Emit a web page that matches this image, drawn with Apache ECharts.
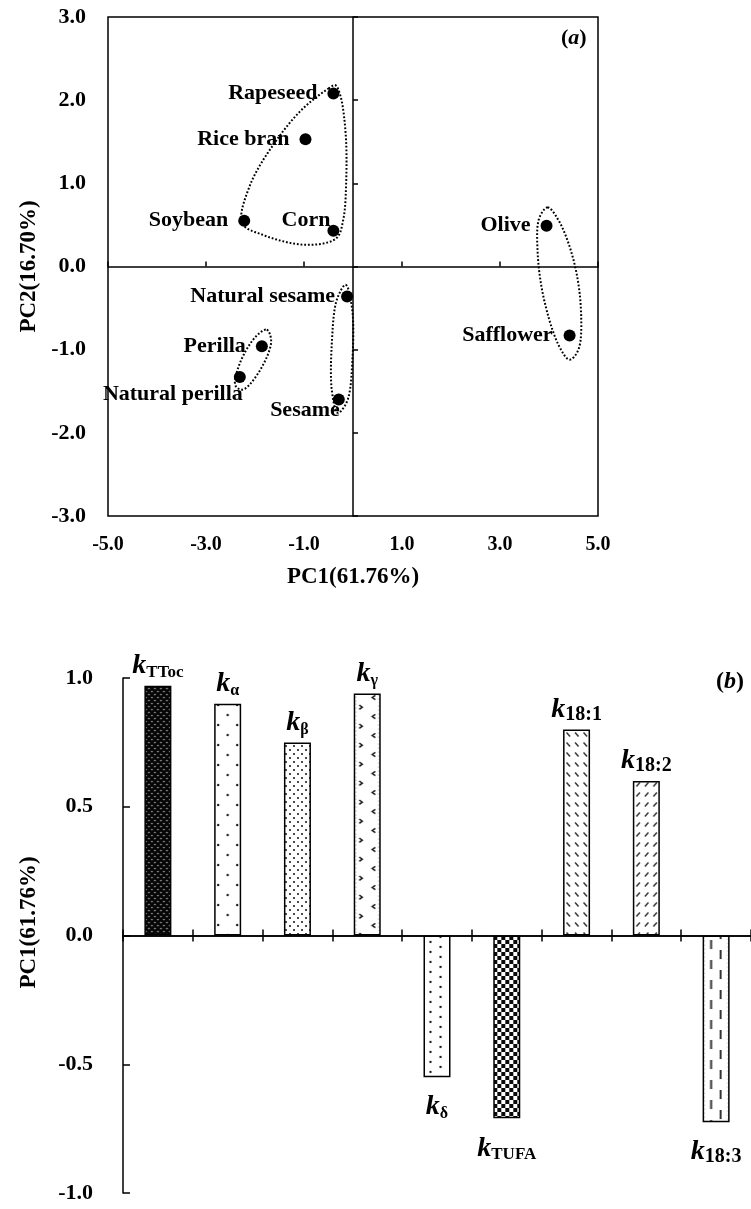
<!DOCTYPE html>
<html>
<head>
<meta charset="utf-8">
<script src="https://cdn.jsdelivr.net/npm/echarts@6/dist/echarts.min.js"></script>
<style>
  html, body { margin: 0; padding: 0; background: #fff; }
  #chart { width: 751px; height: 1209px; }
</style>
</head>
<body>
<div id="chart"></div>
<script>
// ---- (a) PCA score plot of edible oils ----
const oilNames = ['Rapeseed', 'Rice bran', 'Soybean', 'Corn', 'Olive',
                  'Natural sesame', 'Perilla', 'Natural perilla', 'Sesame', 'Safflower'];
const pc1Scores = [-0.40, -0.97, -2.22, -0.40, 3.95, -0.12, -1.86, -2.31, -0.29, 4.42];
const pc2Scores = [2.08, 1.53, 0.55, 0.43, 0.49, -0.36, -0.96, -1.33, -1.60, -0.83];

// dotted cluster boundaries, in score units (PC1, PC2)
const clusterRapeseedGroup = [[-0.50, 2.14], [-0.36, 2.18], [-0.26, 2.06], [-0.15, 1.60], [-0.14, 1.00],
  [-0.20, 0.56], [-0.34, 0.34], [-0.95, 0.26], [-1.84, 0.38], [-2.26, 0.52],
  [-2.10, 0.98], [-1.56, 1.52], [-1.02, 1.90]];
const clusterOliveGroup = [[3.97, 0.71], [4.20, 0.55], [4.50, 0.08], [4.65, -0.50],
  [4.60, -1.00], [4.42, -1.12], [4.20, -0.95], [3.90, -0.40], [3.77, 0.15], [3.80, 0.58]];
const clusterSesameGroup = [[-0.15, -0.22], [-0.02, -0.50], [-0.01, -1.10], [-0.12, -1.62],
  [-0.31, -1.76], [-0.43, -1.50], [-0.43, -0.90], [-0.33, -0.40]];
const clusterPerillaGroup = [[-1.76, -0.76], [-1.67, -0.90], [-1.90, -1.25], [-2.25, -1.48],
  [-2.40, -1.43], [-2.30, -1.15], [-1.98, -0.84]];
const clusterOutlines = [clusterRapeseedGroup, clusterOliveGroup, clusterSesameGroup, clusterPerillaGroup];

const pc1Range = [-5, 5], pc1Step = 2;
const pc2Range = [-3, 3], pc2Step = 1;

// ---- (b) PC1 loadings of the rate constants ----
const loadingTerms = ['TToc', 'α', 'β', 'γ', 'δ', 'TUFA', '18:1', '18:2', '18:3'];
const pc1Loadings = [0.97, 0.90, 0.75, 0.94, -0.55, -0.71, 0.80, 0.60, -0.725];
const loadingRange = [-1, 1], loadingStep = 0.5;

// ---------------------------------------------------------------
const FONT = '"Liberation Serif", "Times New Roman", serif';
const BAR_W = 27;
const ink = '#000';

function tile(w, h, draw) {
  const c = document.createElement('canvas');
  c.width = w; c.height = h;
  const g = c.getContext('2d');
  g.fillStyle = '#fff';
  g.fillRect(0, 0, w, h);
  draw(g);
  return c;
}
function dot(g, x, y, r, col) {
  g.fillStyle = col || '#111';
  g.beginPath(); g.arc(x, y, r, 0, Math.PI * 2); g.fill();
}
function seg(g, x1, y1, x2, y2, w, col) {
  g.strokeStyle = col || '#333'; g.lineWidth = w; g.lineCap = 'butt';
  g.beginPath(); g.moveTo(x1, y1); g.lineTo(x2, y2); g.stroke();
}

// fill textures, one per bar
const fills = [
  tile(6, 6, g => {            // dense dark weave
    g.fillStyle = '#050505'; g.fillRect(0, 0, 6, 6);
    dot(g, 1.5, 1.5, 0.85, '#b4b4b4');
    dot(g, 4.5, 4.5, 0.85, '#b4b4b4');
  }),
  tile(19, 20, g => {          // sparse dots
    dot(g, 4, 5, 1.2); dot(g, 13.5, 15, 1.2);
  }),
  tile(8, 8, g => {            // fine dots
    dot(g, 2, 2, 1.0); dot(g, 6, 6, 1.0);
  }),
  tile(27, 19, g => {          // chevrons
    g.strokeStyle = '#111'; g.lineWidth = 1.5;
    g.beginPath(); g.moveTo(5.5, 2); g.lineTo(8.5, 4.2); g.lineTo(5.5, 6.4); g.stroke();
    g.beginPath(); g.moveTo(21.5, 11.3); g.lineTo(18.5, 13.5); g.lineTo(21.5, 15.7); g.stroke();
    for (let y = 1; y < 19; y += 4) { dot(g, 2, y, 0.6, '#777'); dot(g, 25, y + 2, 0.6, '#777'); }
  }),
  tile(27, 10, g => {          // two columns of dots
    dot(g, 7, 2, 1.15); dot(g, 17, 7, 1.15);
  }),
  tile(8, 8, g => {            // checkerboard
    g.fillStyle = '#0a0a0a'; g.fillRect(0, 0, 4, 4); g.fillRect(4, 4, 4, 4);
  }),
  tile(27, 10, g => {          // back-slash dashes
    [3.5, 12, 20.5].forEach(x => seg(g, x, 2.5, x + 3.5, 6.5, 1.5));
  }),
  tile(27, 10, g => {          // forward-slash dashes
    [3.5, 12, 20.5].forEach(x => seg(g, x + 3.5, 2.5, x, 6.5, 1.5));
  }),
  tile(27, 20, g => {          // vertical dashes
    seg(g, 8.5, 0, 8.5, 9, 2, '#333');
    seg(g, 18, 10, 18, 19, 2, '#333');
    for (let y = 1; y < 20; y += 4) { dot(g, 1.8, y, 0.55, '#888'); dot(g, 25.2, y + 2, 0.55, '#888'); }
  })
];

// closed centripetal Catmull-Rom curve through pixel points
function closedSpline(pts, steps) {
  const n = pts.length, out = [];
  const knot = (a, b) => Math.max(Math.sqrt(Math.hypot(b[0] - a[0], b[1] - a[1])), 1e-4);
  for (let i = 0; i < n; i++) {
    const p0 = pts[(i - 1 + n) % n], p1 = pts[i], p2 = pts[(i + 1) % n], p3 = pts[(i + 2) % n];
    const t0 = 0, t1 = t0 + knot(p0, p1), t2 = t1 + knot(p1, p2), t3 = t2 + knot(p2, p3);
    for (let s = 0; s < steps; s++) {
      const t = t1 + (t2 - t1) * s / steps;
      const mix = (a, b, ta, tb) => {
        const u = (t - ta) / (tb - ta);
        return [a[0] + (b[0] - a[0]) * u, a[1] + (b[1] - a[1]) * u];
      };
      const a1 = mix(p0, p1, t0, t1), a2 = mix(p1, p2, t1, t2), a3 = mix(p2, p3, t2, t3);
      const b1 = mix(a1, a2, t0, t2), b2 = mix(a2, a3, t1, t3);
      out.push(mix(b1, b2, t1, t2));
    }
  }
  return out;
}

const boldText = (size) => ({ fontFamily: FONT, fontWeight: 'bold', fontSize: size, color: ink });
const fmt1 = v => v.toFixed(1);

// label placement around the score points
const pointLabel = {
  'Corn':            { position: [3, 7], align: 'right', verticalAlign: 'bottom' },
  'Natural perilla': { position: [9, 12], align: 'right', verticalAlign: 'top' },
  'Sesame':          { position: [7, 6], align: 'right', verticalAlign: 'top' },
  'Natural sesame':  { position: 'left', distance: 6 },
  'Safflower':       { position: 'left', distance: 11 }
};

const scoreData = oilNames.map((n, i) => ({
  name: n,
  value: [pc1Scores[i], pc2Scores[i]],
  label: Object.assign({ position: 'left', distance: 10 }, pointLabel[n] || {})
}));

function subKind(t) {
  if (/^\d/.test(t)) return 'n';
  if (t.length === 1) return 'g';
  return 't';
}

function barItems(lefts) {
  return pc1Loadings.map((v, i) => ({
    value: v,
    itemStyle: {
      color: { image: fills[i], repeat: 'repeat', x: lefts ? lefts[i] : 0, y: 0 }
    },
    label: v >= 0 ? { position: 'top', distance: 5 } : { position: 'bottom', distance: 16 }
  }));
}

const axisLineStyle = { color: ink, width: 1.5 };

const option = {
  animation: false,
  backgroundColor: '#fff',
  title: [
    {
      text: '{p|(}{i|a}{p|)}', left: 561, top: 27, padding: 0,
      textStyle: { rich: {
        p: boldText(22),
        i: Object.assign(boldText(22), { fontStyle: 'italic' })
      } }
    },
    {
      text: '{p|(}{i|b}{p|)}', left: 716, top: 670, padding: 0,
      textStyle: { rich: {
        p: boldText(24),
        i: Object.assign(boldText(24), { fontStyle: 'italic' })
      } }
    }
  ],
  grid: [
    { left: 108, top: 17, width: 490, height: 499, show: true,
      borderColor: ink, borderWidth: 1.5, backgroundColor: 'transparent' },
    { left: 123, top: 678, width: 632, height: 515 }
  ],
  xAxis: [
    { // (a) tick labels along the bottom edge
      gridIndex: 0, type: 'value', min: pc1Range[0], max: pc1Range[1], interval: pc1Step,
      position: 'bottom',
      axisLine: { show: false, onZero: false }, axisTick: { show: false }, splitLine: { show: false },
      axisLabel: Object.assign({ margin: 19, formatter: fmt1 }, boldText(20)),
      name: 'PC1(61.76%)', nameLocation: 'middle', nameGap: 50, nameTextStyle: boldText(23)
    },
    { // (a) horizontal zero line with ticks
      gridIndex: 0, type: 'value', min: pc1Range[0], max: pc1Range[1], interval: pc1Step,
      position: 'top',
      axisLine: { show: true, onZero: true, lineStyle: axisLineStyle },
      axisTick: { show: true, inside: false, length: 5, lineStyle: axisLineStyle },
      axisLabel: { show: false }, splitLine: { show: false }
    },
    { // (b) category axis on zero, upward ticks
      gridIndex: 1, type: 'category', data: loadingTerms, position: 'bottom',
      axisLine: { show: true, onZero: true, onZeroAxisIndex: 0, lineStyle: axisLineStyle },
      axisTick: { show: true, inside: true, length: 6, lineStyle: axisLineStyle },
      axisLabel: { show: false }, splitLine: { show: false }
    },
    { // (b) same axis, downward ticks
      gridIndex: 1, type: 'category', data: loadingTerms, position: 'top',
      axisLine: { show: true, onZero: true, onZeroAxisIndex: 0, lineStyle: axisLineStyle },
      axisTick: { show: true, inside: true, length: 6, lineStyle: axisLineStyle },
      axisLabel: { show: false }, splitLine: { show: false }
    }
  ],
  yAxis: [
    { // (b) loadings
      gridIndex: 1, type: 'value', min: loadingRange[0], max: loadingRange[1], interval: loadingStep,
      position: 'left',
      axisLine: { show: true, onZero: false, lineStyle: axisLineStyle },
      axisTick: { show: true, inside: true, length: 7, lineStyle: axisLineStyle },
      axisLabel: Object.assign({ margin: 30, formatter: fmt1 }, boldText(22)),
      splitLine: { show: false },
      name: 'PC1(61.76%)', nameLocation: 'middle', nameGap: 82,
      nameTextStyle: Object.assign(boldText(23), { padding: [0, 0, 0, 26] })
    },
    { // (a) tick labels along the left edge
      gridIndex: 0, type: 'value', min: pc2Range[0], max: pc2Range[1], interval: pc2Step,
      position: 'left',
      axisLine: { show: false, onZero: false }, axisTick: { show: false }, splitLine: { show: false },
      axisLabel: Object.assign({ margin: 22, formatter: fmt1 }, boldText(22)),
      name: 'PC2(16.70%)', nameLocation: 'middle', nameGap: 63, nameTextStyle: boldText(23)
    },
    { // (a) vertical zero line with ticks
      gridIndex: 0, type: 'value', min: pc2Range[0], max: pc2Range[1], interval: pc2Step,
      position: 'right',
      axisLine: { show: true, onZero: true, lineStyle: axisLineStyle },
      axisTick: { show: true, inside: false, length: 5, lineStyle: axisLineStyle },
      axisLabel: { show: false }, splitLine: { show: false }
    }
  ],
  series: [
    {
      type: 'custom', name: 'clusters',
      xAxisIndex: 0, yAxisIndex: 1, z: 1,
      data: clusterOutlines.map((o, i) => [o[0][0], o[0][1], i]),
      encode: { x: 0, y: 1 },
      renderItem: function (params, api) {
        const pts = clusterOutlines[params.dataIndex].map(p => api.coord(p));
        return {
          type: 'polygon',
          shape: { points: closedSpline(pts, 16) },
          style: { fill: 'none', stroke: ink, lineWidth: 2, lineDash: [1.8, 1.9] }
        };
      },
      silent: true
    },
    {
      type: 'scatter', name: 'scores',
      xAxisIndex: 0, yAxisIndex: 1, z: 3,
      symbol: 'circle', symbolSize: 12,
      itemStyle: { color: ink, opacity: 1 },
      label: Object.assign({ show: true, formatter: '{b}', opacity: 1 }, boldText(22)),
      data: scoreData
    },
    {
      type: 'bar', name: 'loadings',
      xAxisIndex: 2, yAxisIndex: 0,
      barWidth: BAR_W,
      itemStyle: { borderColor: ink, borderWidth: 1.5 },
      label: {
        show: true,
        formatter: p => '{k|k}{' + subKind(p.name) + '|' + p.name + '}',
        rich: {
          k: { fontFamily: FONT, fontWeight: 'bold', fontStyle: 'italic', fontSize: 28,
               color: ink, verticalAlign: 'bottom', padding: [0, 0, 1, 0] },
          t: Object.assign(boldText(17), { verticalAlign: 'bottom' }),
          g: Object.assign(boldText(16), { verticalAlign: 'bottom' }),
          n: Object.assign(boldText(20), { verticalAlign: 'bottom' })
        }
      },
      data: barItems(null)
    }
  ]
};

const chart = echarts.init(document.getElementById('chart'), null, { renderer: 'canvas' });
chart.setOption(option);

// anchor each texture at the left edge of its own bar
const barLefts = loadingTerms.map((t, i) =>
  chart.convertToPixel({ xAxisIndex: 2 }, i) - BAR_W / 2);
chart.setOption({ series: [{}, {}, { data: barItems(barLefts) }] });
</script>
</body>
</html>
